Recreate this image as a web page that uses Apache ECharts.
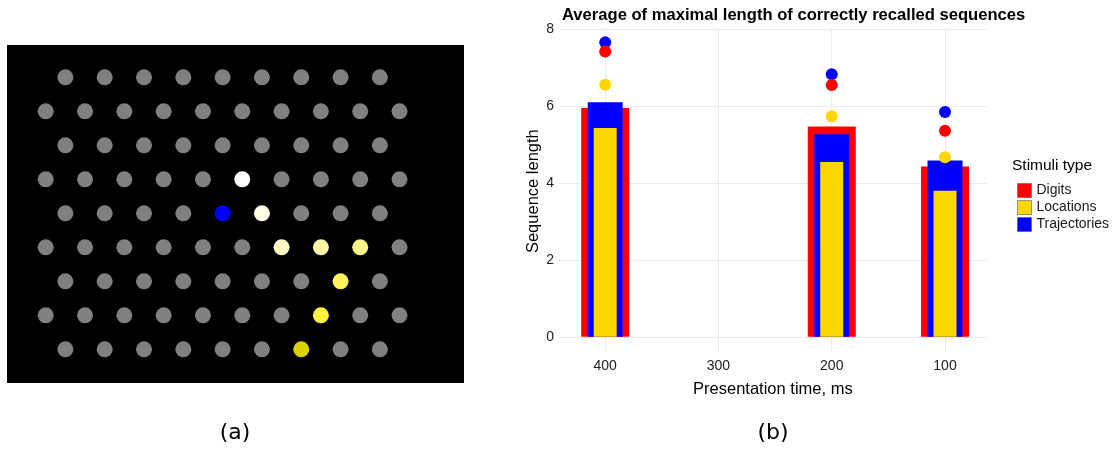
<!DOCTYPE html>
<html>
<head>
<meta charset="utf-8">
<script src="https://cdn.jsdelivr.net/npm/echarts@6/dist/echarts.min.js"></script>
<style>html,body{margin:0;padding:0;background:#fff;}#c{width:1118px;height:450px;}</style>
</head>
<body>
<div id="c"></div>
<script>
// ---------- Panel (b) data ----------
const stimuliTypes = ['Digits', 'Locations', 'Trajectories'];
const presentationTimes = [400, 200, 100];
const barDigits = [5.95, 5.47, 4.43];
const barLocations = [5.43, 4.55, 3.80];
const barTrajectories = [6.10, 5.27, 4.59];
const pointDigits = [7.42, 6.55, 5.36];
const pointLocations = [6.56, 5.74, 4.67];
const pointTrajectories = [7.66, 6.83, 5.85];
const xTickValues = [400, 300, 200, 100];
const yTickValues = [0, 2, 4, 6, 8];
const stimuliColors = ['#ff0000', '#ffd700', '#0000ff'];

// ---------- Panel (a) data ----------
const latticeRows = 9;
const latticeColsLong = 10;   // rows 1,3,5,7
const latticeColsShort = 9;   // rows 0,2,4,6,8 (offset half a step)
const highlightCol = [5, 4.5, 5.5, 6, 7, 8, 7.5, 7, 6.5];
const highlightRow = [3, 4, 4, 5, 5, 5, 6, 7, 8];
const highlightColor = ['#ffffff', '#0000ff', '#fffde4', '#fffac6', '#fff7a6', '#fff48a', '#fff35e', '#fff23e', '#ddd000'];

// build lattice
const highlightKeys = new Set(highlightCol.map((c, i) => c + '_' + highlightRow[i]));
const grayDots = [];
for (let r = 0; r < latticeRows; r++) {
  const isShort = r % 2 === 0;
  const n = isShort ? latticeColsShort : latticeColsLong;
  for (let k = 0; k < n; k++) {
    const c = isShort ? k + 0.5 : k;
    if (!highlightKeys.has(c + '_' + r)) grayDots.push([c, r]);
  }
}
const colorDots = highlightCol.map((c, i) => ({ value: [c, highlightRow[i]], itemStyle: { color: highlightColor[i] } }));

const bx = (vals) => presentationTimes.map((t, i) => [t, vals[i]]);

const FONT = '"Liberation Sans", Arial, sans-serif';
const xMin = 63.2, xMax = 440.8;

const hiddenX = () => ({
  type: 'value', gridIndex: 1, inverse: true, min: xMin, max: xMax, show: false
});

const chart = echarts.init(document.getElementById('c'), null, { renderer: 'canvas' });
chart.setOption({
  backgroundColor: '#ffffff',
  animation: false,
  title: [
    {
      text: 'Average of maximal length of correctly recalled sequences',
      left: 557, top: 2,
      textStyle: { fontFamily: FONT, fontWeight: 'bold', fontSize: 16.6, color: '#000' }
    },
    {
      text: 'Stimuli type',
      left: 1007, top: 153,
      textStyle: { fontFamily: FONT, fontWeight: 'normal', fontSize: 15.5, color: '#000' }
    }
  ],
  legend: {
    data: stimuliTypes,
    orient: 'vertical',
    left: 1012, top: 178,
    icon: 'rect',
    itemWidth: 14, itemHeight: 14, itemGap: 2,
    itemStyle: { borderColor: 'rgba(90,90,90,0.6)', borderWidth: 1 },
    textStyle: { fontFamily: FONT, fontSize: 14, color: '#1a1a1a', padding: [0, 0, 0, 0] }
  },
  graphic: [
    { type: 'text', x: 235, y: 433, style: { text: '(a)', font: '22px "DejaVu Sans"', fill: '#000', textAlign: 'center', textVerticalAlign: 'middle' } },
    { type: 'text', x: 773, y: 433, style: { text: '(b)', font: '22px "DejaVu Sans"', fill: '#000', textAlign: 'center', textVerticalAlign: 'middle' } }
  ],
  grid: [
    { left: 7, top: 45, width: 457, height: 338, show: true, backgroundColor: '#000000', borderWidth: 0 },
    { left: 559, right: 131.3, top: 29.3, bottom: 97 }
  ],
  xAxis: [
    { type: 'value', gridIndex: 0, min: -0.985, max: 10.64, show: false },
    {
      type: 'value', gridIndex: 1, inverse: true, min: xMin, max: xMax,
      name: 'Presentation time, ms', nameLocation: 'middle', nameGap: 28,
      nameTextStyle: { fontFamily: FONT, fontSize: 16.5, color: '#000' },
      axisLine: { show: false },
      axisTick: { show: false, customValues: xTickValues },
      axisLabel: { customValues: xTickValues, fontFamily: FONT, fontSize: 14, color: '#222', margin: 6 },
      splitLine: { show: true, lineStyle: { color: '#ebebeb', width: 1 } }
    },
    hiddenX(),
    hiddenX()
  ],
  yAxis: [
    { type: 'value', gridIndex: 0, inverse: true, min: -0.95, max: 8.99, show: false },
    {
      type: 'value', gridIndex: 1, min: -0.42, max: 8.0,
      name: 'Sequence length', nameLocation: 'middle', nameGap: 16,
      nameTextStyle: { fontFamily: FONT, fontSize: 16.5, color: '#000' },
      axisLine: { show: false },
      axisTick: { show: false, customValues: yTickValues },
      axisLabel: { customValues: yTickValues, fontFamily: FONT, fontSize: 14, color: '#222', margin: 5 },
      splitLine: { show: true, lineStyle: { color: '#ebebeb', width: 1 } }
    }
  ],
  series: [
    // Panel (a)
    { type: 'scatter', xAxisIndex: 0, yAxisIndex: 0, data: grayDots, symbolSize: 16, itemStyle: { color: '#808080', opacity: 1 }, silent: true },
    { type: 'scatter', xAxisIndex: 0, yAxisIndex: 0, data: colorDots, symbolSize: 16, itemStyle: { opacity: 1 }, silent: true },
    // Panel (b) bars
    { name: 'Digits', type: 'bar', xAxisIndex: 1, yAxisIndex: 1, data: bx(barDigits), barWidth: 48, itemStyle: { color: stimuliColors[0] } },
    { name: 'Trajectories', type: 'bar', xAxisIndex: 2, yAxisIndex: 1, data: bx(barTrajectories), barWidth: 35, itemStyle: { color: stimuliColors[2] } },
    { name: 'Locations', type: 'bar', xAxisIndex: 3, yAxisIndex: 1, data: bx(barLocations), barWidth: 23, itemStyle: { color: stimuliColors[1] } },
    // Panel (b) points
    { name: 'Trajectories', type: 'scatter', xAxisIndex: 1, yAxisIndex: 1, data: bx(pointTrajectories), symbolSize: 12, z: 5, itemStyle: { color: stimuliColors[2], opacity: 1 } },
    { name: 'Locations', type: 'scatter', xAxisIndex: 1, yAxisIndex: 1, data: bx(pointLocations), symbolSize: 12, z: 5, itemStyle: { color: stimuliColors[1], opacity: 1 } },
    { name: 'Digits', type: 'scatter', xAxisIndex: 1, yAxisIndex: 1, data: bx(pointDigits), symbolSize: 12, z: 5, itemStyle: { color: stimuliColors[0], opacity: 1 } }
  ]
});
</script>
</body>
</html>
